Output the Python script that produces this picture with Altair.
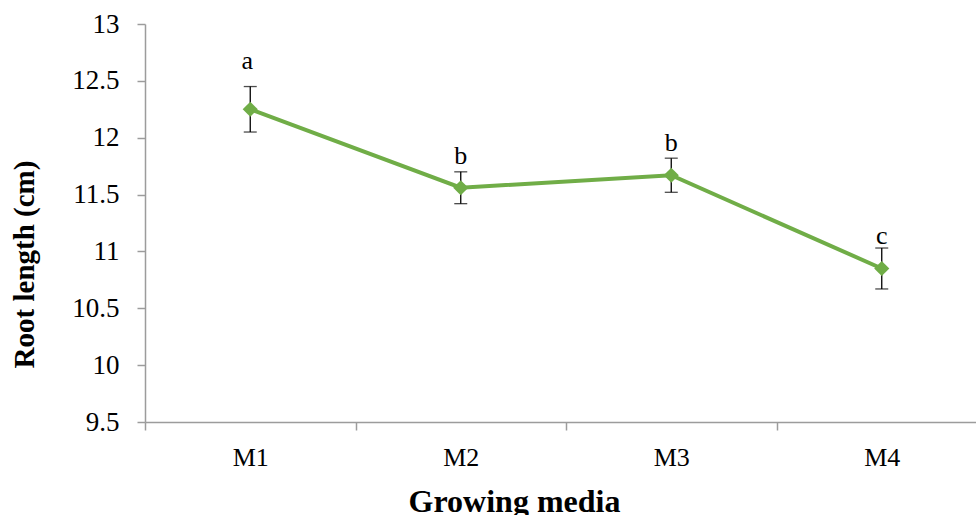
import altair as alt
import pandas as pd

# Mean root length per growing medium, its error and the significance letter
media = ["M1", "M2", "M3", "M4"]
root_length = [12.25, 11.56, 11.67, 10.85]
error = [0.20, 0.14, 0.15, 0.18]
letters = ["a", "b", "b", "c"]

df = pd.DataFrame({
    "media": media,
    "length": root_length,
    "lower": [v - e for v, e in zip(root_length, error)],
    "upper": [v + e for v, e in zip(root_length, error)],
    "letter": letters,
})

GREEN = "#70AD47"
AXIS_GREY = "#9C9C9C"
FONT = "Liberation Serif"

x_enc = alt.X(
    "media:N",
    sort=media,
    scale=alt.Scale(range=[0, 842], paddingInner=0, paddingOuter=0),
    axis=alt.Axis(
        title="Growing media",
        titleFontSize=32,
        titleX=369, titleY=89, titleAlign="center", titleBaseline="alphabetic",
        titleAnchor="start",
        labelAngle=0, labelAlign="center", labelBaseline="alphabetic", labelPadding=35,
        labelFontSize=26,
        tickBand="extent",
    ),
)

y_scale = alt.Scale(domain=[9.5, 13], nice=False, zero=False)
y_axis = alt.Axis(
    title="Root length (cm)",
    titleFontSize=29,
    titleX=-112, titleY=240, titleAlign="center", titleBaseline="alphabetic",
    titleAnchor="start", titleAngle=270,
    labelPadding=18, labelFontSize=27,
    format=".1~f", values=[9.5, 10, 10.5, 11, 11.5, 12, 12.5, 13],
)

base = alt.Chart(df)
x_plain = alt.X("media:N", sort=media)

line = base.mark_line(color=GREEN, strokeWidth=4).encode(
    x=x_enc,
    y=alt.Y("length:Q", scale=y_scale, axis=y_axis),
)

points = base.mark_point(shape="diamond", filled=True, color=GREEN, size=230, opacity=1).encode(
    x=x_plain,
    y=alt.Y("length:Q"),
)

err_rule = base.mark_rule(color="black", strokeWidth=1.3).encode(
    x=x_plain,
    y=alt.Y("lower:Q"),
    y2="upper:Q",
)

cap_top = base.mark_tick(color="black", thickness=1.3, size=13, orient="horizontal").encode(
    x=x_plain,
    y=alt.Y("upper:Q"),
)

cap_bottom = base.mark_tick(color="black", thickness=1.3, size=13, orient="horizontal").encode(
    x=x_plain,
    y=alt.Y("lower:Q"),
)

# Significance letters sit above each point; the top group's letter is lifted clear of its longer bar
text_style = dict(font=FONT, fontSize=26, color="black", baseline="alphabetic", align="center")
labels_high = base.transform_filter(alt.datum.letter == "a").mark_text(dy=-40, dx=-3, **text_style).encode(
    x=x_plain, y=alt.Y("length:Q"), text="letter:N"
)
labels_low = base.transform_filter(alt.datum.letter != "a").mark_text(dy=-24, **text_style).encode(
    x=x_plain, y=alt.Y("length:Q"), text="letter:N"
)

chart = (
    alt.layer(err_rule, line, cap_top, cap_bottom, points, labels_high, labels_low)
    .properties(
        width=831,
        height=398,
        autosize=alt.AutoSizeParams(type="none"),
        padding={"left": 145, "top": 24, "right": 0, "bottom": 93},
        background="white",
    )
    .configure_view(stroke=None)
    .configure_axis(
        labelFont=FONT, labelColor="black",
        titleFont=FONT, titleFontWeight="bold", titleColor="black",
        tickSize=8, tickColor=AXIS_GREY, tickWidth=1.5,
        domainColor=AXIS_GREY, domainWidth=1.5, grid=False,
    )
)

chart.save("out.html", embed_options={"renderer": "svg", "actions": False})
